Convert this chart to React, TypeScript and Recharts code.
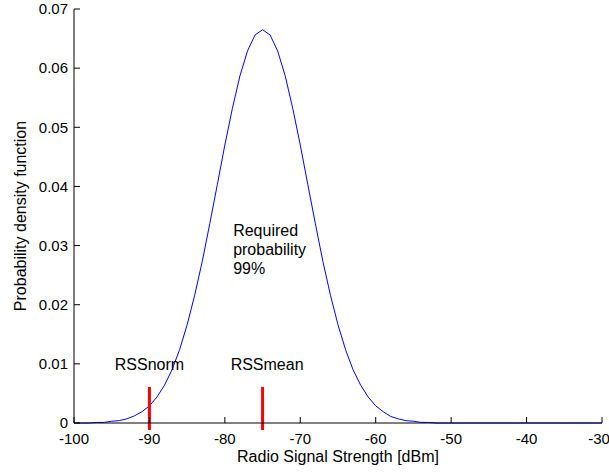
import { LineChart, Line, XAxis, YAxis, ReferenceLine, ReferenceDot } from 'recharts';

const dbm = [
  -100, -99, -98, -97, -96, -95, -94, -93, -92, -91,
  -90, -89, -88, -87, -86, -85, -84, -83, -82, -81,
  -80, -79, -78, -77, -76, -75, -74, -73, -72, -71,
  -70, -69, -68, -67, -66, -65, -64, -63, -62, -61,
  -60, -59, -58, -57, -56, -55, -54, -53, -52, -50,
  -45, -40, -35, -30,
];
const pdf = [
  0, 0, 0, 0.0001, 0.0001, 0.0003, 0.0004, 0.0007, 0.0012, 0.0019,
  0.0029, 0.0044, 0.0064, 0.009, 0.0124, 0.0166, 0.0216, 0.0273, 0.0337, 0.0403,
  0.047, 0.0532, 0.0587, 0.0629, 0.0656, 0.0665, 0.0656, 0.0629, 0.0587, 0.0532,
  0.047, 0.0403, 0.0337, 0.0273, 0.0216, 0.0166, 0.0124, 0.009, 0.0064, 0.0044,
  0.0029, 0.0019, 0.0011, 0.0007, 0.0004, 0.0003, 0.0001, 0.0001, 0, 0,
  0, 0, 0, 0,
];
const xTicks = [-100, -90, -80, -70, -60, -50, -40, -30];
const yTicks = [0, 0.01, 0.02, 0.03, 0.04, 0.05, 0.06, 0.07];

// red markers: position and height of the bar
const markers = [
  { x: -90, top: 0.0061 },
  { x: -75, top: 0.0061 },
];
const markerLabels = [
  { x: -90, y: 0.0099, text: 'RSSnorm' },
  { x: -74.4, y: 0.0099, text: 'RSSmean' },
];
const noteLines = [
  { y: 0.0325, text: 'Required' },
  { y: 0.0293, text: 'probability' },
  { y: 0.0261, text: '99%' },
];
const noteX = -78.9;

const data = dbm.map((x, i) => ({ x, y: pdf[i] }));

const font = '"Liberation Sans", Arial, sans-serif';
const tickStyle = { fill: '#000', fontSize: 15, fontFamily: font };
const empty = () => '';

export default function App() {
  return (
    <div style={{ position: 'absolute', left: 0, top: 0, background: '#fff' }}>
      <LineChart width={609} height={475} data={data} margin={{ top: 9, right: 7, bottom: 0, left: 0 }}>
        <XAxis
          dataKey="x"
          type="number"
          domain={[-100, -30]}
          ticks={xTicks}
          height={52}
          tick={tickStyle}
          tickSize={-6}
          tickMargin={16}
          stroke="#000"
          tickLine={{ stroke: '#000' }}
          label={{ value: 'Radio Signal Strength [dBm]', position: 'insideBottom', offset: 13, fill: '#000', fontSize: 16, fontFamily: font }}
        />
        <XAxis
          xAxisId="top"
          orientation="top"
          dataKey="x"
          type="number"
          domain={[-100, -30]}
          ticks={xTicks}
          height={0}
          tickSize={-6}
          tickFormatter={empty}
          stroke="#000"
          tickLine={{ stroke: '#000' }}
        />
        <YAxis
          type="number"
          domain={[0, 0.07]}
          ticks={yTicks}
          width={74}
          tick={tickStyle}
          tickSize={-6}
          tickMargin={12}
          tickFormatter={(v: number) => (v === 0 ? '0' : v.toFixed(2))}
          stroke="#000"
          tickLine={{ stroke: '#000' }}
          label={{ value: 'Probability density function', angle: -90, position: 'insideLeft', offset: 20, fill: '#000', fontSize: 16, fontFamily: font, style: { textAnchor: 'middle' } }}
        />
        <YAxis
          yAxisId="right"
          orientation="right"
          type="number"
          domain={[0, 0.07]}
          ticks={yTicks}
          width={0}
          tickSize={-6}
          tickFormatter={empty}
          stroke="#000"
          tickLine={{ stroke: '#000' }}
        />
        <Line dataKey="y" stroke="#0000ff" strokeWidth={1} dot={false} isAnimationActive={false} />
        {markers.map((m) => (
          <ReferenceLine
            key={m.x}
            segment={[{ x: m.x, y: -0.0012 }, { x: m.x, y: m.top }]}
            stroke="#ff0000"
            strokeWidth={3}
            ifOverflow="visible"
          />
        ))}
        {markerLabels.map((l) => (
          <ReferenceDot
            key={l.text}
            x={l.x}
            y={l.y}
            r={0}
            fill="none"
            stroke="none"
            label={{ value: l.text, position: 'center', fill: '#000', fontSize: 16, fontFamily: font }}
          />
        ))}
        {noteLines.map((l) => (
          <ReferenceDot
            key={l.text}
            x={noteX}
            y={l.y}
            r={0}
            fill="none"
            stroke="none"
            label={{ value: l.text, position: 'right', offset: 0, fill: '#000', fontSize: 16, fontFamily: font }}
          />
        ))}
      </LineChart>
    </div>
  );
}
